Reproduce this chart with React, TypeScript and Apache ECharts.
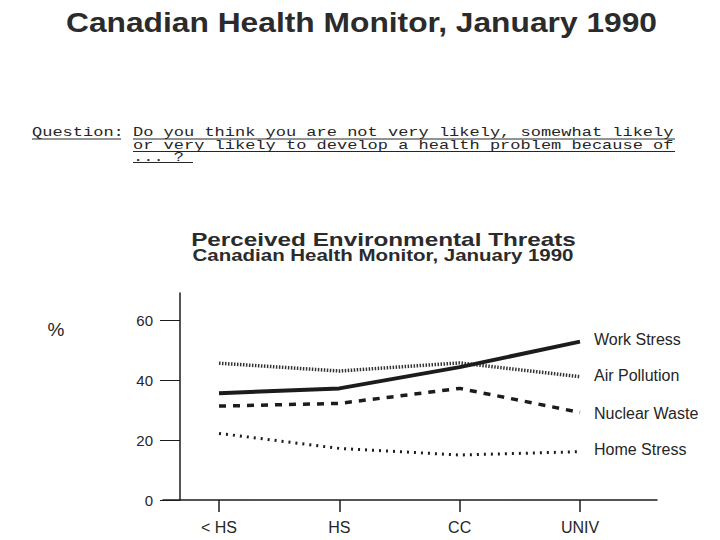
import React, { useEffect, useRef } from "react";
import * as echarts from "echarts";

const categories = ["< HS", "HS", "CC", "UNIV"];
const categoryIndex = [0, 1, 2, 3];
const seriesNames = ["Work Stress", "Air Pollution", "Nuclear Waste", "Home Stress"];
const workStress = [35.6, 37.2, 44.3, 52.8];
const airPollution = [45.6, 43.0, 45.7, 41.1];
const nuclearWaste = [31.3, 32.2, 37.2, 29.2];
const homeStress = [22.2, 17.2, 15.0, 16.1];
const yTicks = [0, 20, 40, 60];

const mainTitle = "Canadian Health Monitor, January 1990";
const questionLabel = "Question:";
const questionLines = [
  "Do you think you are not very likely, somewhat likely",
  "or very likely to develop a health problem because of",
  "... ?",
];
const chartTitle = "Perceived Environmental Threats";
const chartSubtitle = "Canadian Health Monitor, January 1990";
const unitLabel = "%";

const INK = "#1c1c1c";
const TEXT = "#262626";
const SANS = '"Liberation Sans", Arial, sans-serif';
const MONO = '"Liberation Mono", "Courier New", monospace';

export default function App() {
  const ref = useRef<HTMLDivElement>(null);

  useEffect(() => {
    document.body.style.margin = "0";
    if (!ref.current) return;
    const chart = echarts.init(ref.current, undefined, { renderer: "svg" });

    const toPairs = (vals: number[]) => vals.map((v, i) => [categoryIndex[i], v]);

    const endLabel = (dy: number) => ({
      show: true,
      formatter: "{a}",
      distance: 14,
      offset: [0, dy],
      fontSize: 16,
      fontFamily: SANS,
      color: TEXT,
    });

    const monoSize = 13;
    const monoScale = 10.2 / (0.6 * monoSize);
    const qLineYs = [133, 146, 157.5];
    const qUnderlineYs = [139, 151.5, 162.5];
    const qUnderlineEnds = [675, 675, 193];

    const graphics: any[] = [
      {
        type: "text",
        x: 361.5,
        y: 22,
        scaleX: 1.176,
        style: {
          text: mainTitle,
          fill: "#2b2b2b",
          fontSize: 27,
          fontWeight: "bold",
          fontFamily: SANS,
          align: "center",
          verticalAlign: "middle",
        },
      },
      {
        type: "text",
        x: 32,
        y: qLineYs[0],
        scaleX: monoScale,
        style: {
          text: questionLabel,
          fill: TEXT,
          fontSize: monoSize,
          fontFamily: MONO,
          align: "left",
          verticalAlign: "middle",
        },
      },
      {
        type: "line",
        shape: { x1: 32, y1: qUnderlineYs[0], x2: 121, y2: qUnderlineYs[0] },
        style: { stroke: TEXT, lineWidth: 1 },
      },
      {
        type: "text",
        x: 383.5,
        y: 240,
        scaleX: 1.35,
        style: {
          text: chartTitle,
          fill: "#2b2b2b",
          fontSize: 18,
          fontWeight: "bold",
          fontFamily: SANS,
          align: "center",
          verticalAlign: "middle",
        },
      },
      {
        type: "text",
        x: 383,
        y: 255,
        scaleX: 1.28,
        style: {
          text: chartSubtitle,
          fill: "#2b2b2b",
          fontSize: 16,
          fontWeight: "bold",
          fontFamily: SANS,
          align: "center",
          verticalAlign: "middle",
        },
      },
      {
        type: "text",
        x: 56,
        y: 329,
        style: {
          text: unitLabel,
          fill: TEXT,
          fontSize: 19,
          fontFamily: SANS,
          align: "center",
          verticalAlign: "middle",
        },
      },
    ];

    questionLines.forEach((line, i) => {
      graphics.push({
        type: "text",
        x: 133,
        y: qLineYs[i],
        scaleX: monoScale,
        style: {
          text: line,
          fill: TEXT,
          fontSize: monoSize,
          fontFamily: MONO,
          align: "left",
          verticalAlign: "middle",
        },
      });
      graphics.push({
        type: "line",
        shape: { x1: 133, y1: qUnderlineYs[i], x2: qUnderlineEnds[i], y2: qUnderlineYs[i] },
        style: { stroke: TEXT, lineWidth: 1 },
      });
    });

    chart.setOption({
      animation: false,
      backgroundColor: "#ffffff",
      graphic: graphics,
      grid: {
        left: 163,
        right: 63,
        top: 293,
        bottom: 40,
        containLabel: false,
        outerBoundsMode: "none",
      },
      xAxis: {
        type: "value",
        min: -0.4654,
        max: 3.64,
        axisLine: { show: true, onZero: true, lineStyle: { color: INK, width: 1.5 } },
        axisTick: {
          show: true,
          customValues: categoryIndex,
          length: 12,
          lineStyle: { color: INK, width: 1.5 },
        },
        axisLabel: {
          customValues: categoryIndex,
          formatter: (v: number) => categories[Math.round(v)] ?? "",
          margin: 19,
          fontSize: 16,
          fontFamily: SANS,
          color: TEXT,
        },
        splitLine: { show: false },
      },
      yAxis: {
        type: "value",
        min: 0,
        max: 69,
        offset: -17,
        axisLine: { show: true, onZero: false, lineStyle: { color: INK, width: 1.5 } },
        axisTick: {
          show: true,
          customValues: yTicks,
          length: 20,
          lineStyle: { color: INK, width: 1 },
        },
        axisLabel: {
          customValues: yTicks,
          margin: 27,
          fontSize: 15,
          fontFamily: SANS,
          color: TEXT,
        },
        splitLine: { show: false },
      },
      series: [
        {
          name: seriesNames[3],
          type: "line",
          data: toPairs(homeStress),
          symbol: "none",
          lineStyle: { color: INK, width: 3, type: [2, 5], cap: "butt" },
          endLabel: endLabel(-2),
          z: 2,
        },
        {
          name: seriesNames[2],
          type: "line",
          data: toPairs(nuclearWaste),
          symbol: "none",
          lineStyle: { color: INK, width: 3.5, type: [7, 7], cap: "butt" },
          endLabel: endLabel(1),
          z: 3,
        },
        {
          name: seriesNames[1],
          type: "line",
          data: toPairs(airPollution),
          symbol: "none",
          lineStyle: { color: "#333333", width: 3.5, type: [1.5, 1.5], cap: "butt" },
          endLabel: endLabel(-1.5),
          z: 4,
        },
        {
          name: seriesNames[0],
          type: "line",
          data: toPairs(workStress),
          symbol: "none",
          lineStyle: { color: INK, width: 4 },
          endLabel: endLabel(-2),
          z: 5,
        },
      ],
    });

    return () => chart.dispose();
  }, []);

  return <div ref={ref} style={{ width: 720, height: 540 }} />;
}
